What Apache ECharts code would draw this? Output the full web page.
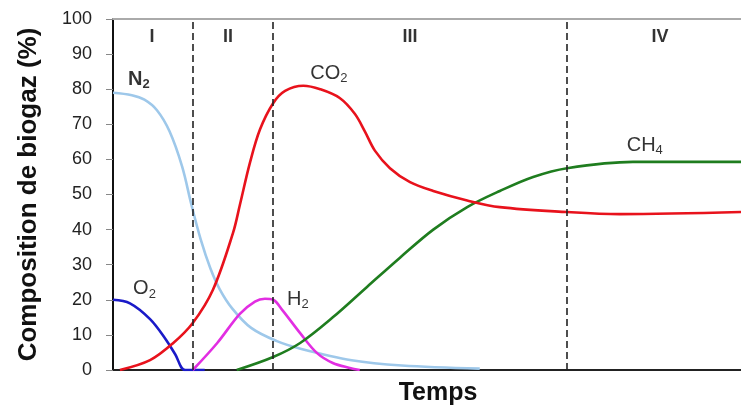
<!DOCTYPE html>
<html>
<head>
<meta charset="utf-8">
<script src="https://cdn.jsdelivr.net/npm/echarts@6/dist/echarts.min.js"></script>
<style>html,body{margin:0;padding:0;background:#fff;}#c{width:741px;height:412px;}</style>
</head>
<body>
<div id="c"></div>
<script>
// Time axis in arbitrary units (0..100)
const n2 = [[0,79],[3,78.3],[5,77],[7,74],[9,68],[11,58],[12.5,47],[14,37],[15.5,29],[17,23],[19,17.5],[22,12],[26,8.3],[30,6],[38,2.8],[46,1.3],[58.4,0.4]];
const o2 = [[0,20],[2.7,19],[5.9,14.5],[8.3,9],[9.9,4.5],[11.5,0],[14.6,0]];
const co2 = [[1.1,0],[5.9,2.8],[9.6,7.7],[12.7,13.4],[15.9,22.8],[19.1,39],[20.2,47],[21.8,59],[23.4,68.5],[25.5,76],[27.4,79.5],[30.3,81],[33.0,80],[36.1,77.5],[38.5,73],[40.1,68],[41.7,62.5],[44.1,57.5],[47.3,53.5],[51.0,51],[56.4,48.3],[61.6,46.4],[72.3,45],[80.7,44.4],[100,45]];
const h2 = [[12.7,0],[16.6,7.7],[20.2,16],[22.6,19.5],[24.2,20.3],[25.5,20],[27.0,17],[29.8,10.5],[32.5,4.8],[35.0,2],[37.7,0.6],[39.3,0]];
const ch4 = [[19.7,0],[25.5,3.7],[29.8,7.7],[35.0,15],[40.4,23.6],[45.7,32],[51.0,40],[56.4,46.4],[61.6,51],[66.9,55],[72.3,57.5],[82.8,59.3],[100,59.3]];
const phaseBounds = [12.7, 25.5, 72.3];
const phaseLabels = [[6.2,94.9,'I'],[18.3,94.9,'II'],[47.3,94.9,'III'],[87.1,94.9,'IV']];
const gasLabels = [[2.4,82.6,'N','2',true],[3.2,22.8,'O','2',false],[31.4,84.3,'CO','2',false],[27.7,19.9,'H','2',false],[81.8,63.8,'CH','4',false]];
const yTicks = [0,10,20,30,40,50,60,70,80,90,100];

const FONT = '"Liberation Sans", Arial, sans-serif';
const chart = echarts.init(document.getElementById('c'), null, {renderer:'canvas'});

function lineSeries(name, data, color){
  return {name, type:'line', data, smooth:0.35, symbol:'none',
    lineStyle:{color, width:2.6}, z:3};
}
const TXT = '#000';

const option = {
  animation:false,
  backgroundColor:'#fff',
  grid:{left:113, right:0, top:19, bottom:42, containLabel:false, outerBoundsMode:'none'},
  xAxis:[{
    type:'value', min:0, max:100, position:'bottom',
    name:'Temps', nameLocation:'middle', nameGap:11,
    nameTextStyle:{fontFamily:FONT, fontSize:25, fontWeight:'bold', color:'#111', padding:[0,0,0,22]},
    axisLine:{show:true, lineStyle:{color:'#222', width:2}},
    axisTick:{show:false}, axisLabel:{show:false}, splitLine:{show:false}
  },{
    type:'value', min:0, max:100, position:'top',
    axisLine:{show:true, lineStyle:{color:'#aaa', width:2}},
    axisTick:{show:false}, axisLabel:{show:false}, splitLine:{show:false}
  }],
  yAxis:{
    type:'value', min:0, max:100, interval:10,
    name:'Composition de biogaz (%)', nameLocation:'middle', nameGap:71, nameRotate:90,
    nameTextStyle:{fontFamily:FONT, fontSize:26, fontWeight:'bold', color:'#111'},
    axisLine:{show:true, lineStyle:{color:'#111', width:2}},
    axisTick:{show:true, length:7, lineStyle:{color:'#888', width:1}},
    axisLabel:{fontFamily:FONT, fontSize:18, color:'#222', margin:21,
      formatter: v => yTicks.includes(v) ? String(v) : ''},
    splitLine:{show:false}
  },
  series:[
    lineSeries('N2', n2, '#9ec8ea'),
    lineSeries('O2', o2, '#1a1ac8'),
    lineSeries('H2', h2, '#e22ee2'),
    lineSeries('CH4', ch4, '#1f7d1f'),
    Object.assign(lineSeries('CO2', co2, '#e8121c'), {
      markLine:{silent:true, symbol:'none', label:{show:false},
        lineStyle:{color:'#222', type:[7,4], width:1.6},
        data: phaseBounds.map(x => ({xAxis:x}))}
    }),
    {type:'scatter', symbolSize:0, itemStyle:{color:'#000'}, z:5, silent:true,
      data: phaseLabels.map(p => ({value:[p[0],p[1]], name:p[2]})),
      label:{show:true, position:'inside', formatter: p => p.name, textBorderWidth:0,
        fontFamily:FONT, fontSize:18, fontWeight:'bold', color:TXT}},
    {type:'scatter', symbolSize:0, itemStyle:{color:'#000'}, z:5, silent:true,
      data: gasLabels.map(p => ({value:[p[0],p[1]], name:p[2], sub:p[3], bold:p[4]})),
      label:{show:true, position:'right', distance:0, textBorderWidth:0, color:TXT,
        formatter: p => p.data.bold ? '{bb|' + p.data.name + '}{bs|' + p.data.sub + '}' : '{n|' + p.data.name + '}{s|' + p.data.sub + '}',
        rich:{
          n:{fontFamily:FONT, fontSize:20, color:TXT, lineHeight:22, verticalAlign:'top'},
          s:{fontFamily:FONT, fontSize:13, color:TXT, lineHeight:22, verticalAlign:'bottom', padding:[10,0,0,0]},
          bb:{fontFamily:FONT, fontSize:20, fontWeight:'bold', color:TXT, lineHeight:22, verticalAlign:'top'},
          bs:{fontFamily:FONT, fontSize:13, fontWeight:'bold', color:TXT, lineHeight:22, verticalAlign:'bottom', padding:[10,0,0,0]}
        }}}
  ]
};
chart.setOption(option);
</script>
</body>
</html>
